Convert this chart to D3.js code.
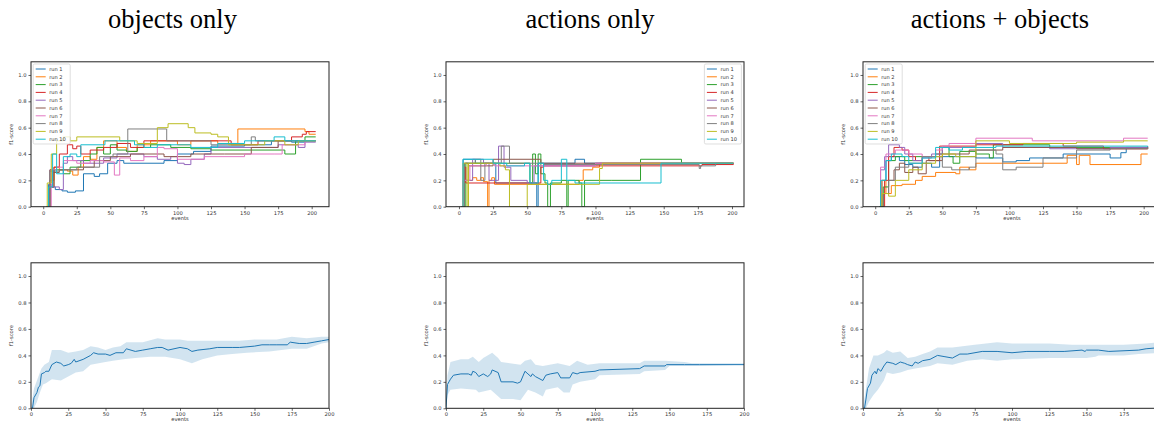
<!DOCTYPE html>
<html><head><meta charset="utf-8">
<script src="https://cdn.jsdelivr.net/npm/d3@7"></script>
<style>body{margin:0;background:#fff}svg{display:block}</style>
</head><body><svg id="c" width="1154" height="426"></svg>
<script>
const titles = ["objects only", "actions only", "actions + objects"];
const runNames = ["run 1","run 2","run 3","run 4","run 5","run 6","run 7","run 8","run 9","run 10"];
const colors = ["#1f77b4","#ff7f0e","#2ca02c","#d62728","#9467bd","#8c564b","#e377c2","#7f7f7f","#bcbd22","#17becf"];
const yTicks = [0, 0.2, 0.4, 0.6, 0.8, 1.0];
const xTicks = [0, 25, 50, 75, 100, 125, 150, 175, 200];

// step change points [event, f1] per run
const objectsRuns = [
 [[2,0],[4,0.17],[6,0.15],[9,0.13],[14,0.12],[18,0.11],[24,0.12],[30,0.25],[38,0.23],[42,0.25],[48,0.33],[55,0.35],[60,0.33],[90,0.35],[100,0.40],[112,0.42],[125,0.46],[150,0.47],[170,0.50],[185,0.49],[195,0.50],[203,0.50]],
 [[3,0],[5,0.2],[8,0.3],[12,0.28],[18,0.27],[22,0.24],[26,0.3],[30,0.38],[35,0.36],[40,0.45],[45,0.5],[55,0.45],[62,0.42],[70,0.47],[80,0.5],[100,0.47],[110,0.5],[130,0.48],[145,0.59],[195,0.57],[198,0.55],[203,0.55]],
 [[3,0],[5,0.15],[8,0.28],[15,0.25],[20,0.3],[28,0.35],[35,0.4],[40,0.45],[45,0.4],[50,0.47],[55,0.43],[62,0.42],[70,0.45],[80,0.47],[95,0.45],[110,0.44],[125,0.43],[180,0.40],[188,0.5],[195,0.53],[203,0.53]],
 [[3,0],[5,0.15],[8,0.3],[12,0.4],[18,0.47],[22,0.44],[25,0.46],[28,0.4],[35,0.43],[45,0.45],[55,0.48],[65,0.45],[75,0.5],[140,0.47],[160,0.5],[185,0.53],[193,0.55],[196,0.57],[203,0.57]],
 [[3,0],[5,0.28],[7,0.15],[12,0.13],[15,0.33],[18,0.38],[22,0.35],[30,0.33],[45,0.37],[55,0.4],[75,0.38],[85,0.36],[95,0.38],[100,0.33],[105,0.32],[110,0.36],[120,0.4],[125,0.45],[175,0.47],[190,0.45],[195,0.49],[203,0.49]],
 [[3,0],[5,0.28],[8,0.26],[12,0.28],[30,0.3],[38,0.35],[50,0.38],[65,0.4],[90,0.38],[110,0.4],[135,0.4],[155,0.45],[175,0.5],[203,0.5]],
 [[3,0],[6,0.28],[10,0.3],[15,0.35],[25,0.33],[35,0.35],[45,0.34],[53,0.24],[57,0.37],[65,0.35],[75,0.38],[85,0.45],[90,0.44],[100,0.36],[120,0.38],[150,0.4],[172,0.4],[178,0.47],[195,0.5],[203,0.5]],
 [[3,0],[5,0.27],[12,0.28],[25,0.3],[35,0.3],[42,0.38],[52,0.4],[63,0.59],[92,0.5],[125,0.47],[155,0.53],[158,0.5],[203,0.5]],
 [[2,0],[3,0.18],[6,0.4],[10,0.5],[15,0.53],[20,0.5],[25,0.53],[57,0.5],[70,0.48],[85,0.6],[93,0.63],[108,0.6],[113,0.56],[125,0.55],[130,0.53],[138,0.47],[165,0.5],[180,0.47],[190,0.5],[203,0.5]],
 [[3,0],[4,0.15],[7,0.4],[10,0.25],[15,0.38],[20,0.4],[25,0.38],[28,0.47],[46,0.5],[68,0.47],[75,0.45],[85,0.47],[110,0.45],[130,0.48],[150,0.5],[172,0.53],[180,0.5],[203,0.5]]
];
const actionsRuns = [
 [[2,0],[3,0.36],[12,0.33],[27,0.18],[55,0.18],[57,0],[58,0.33],[85,0.36],[92,0.33],[201,0.33]],
 [[3,0],[4,0.2],[10,0.22],[13,0.2],[16,0.22],[18,0.19],[21,0],[22,0.2],[24,0.22],[26,0.17],[60,0.17],[88,0.2],[91,0.28],[98,0.3],[103,0.33],[201,0.33]],
 [[2,0],[5,0.33],[52,0.18],[54,0.4],[56,0.25],[58,0.4],[60,0.25],[63,0.18],[65,0],[67,0.18],[75,0.2],[79,0],[80,0.2],[88,0.18],[90,0],[92,0.2],[112,0.2],[133,0.36],[163,0.33],[201,0.33]],
 [[3,0],[4,0.3],[5,0.18],[60,0.3],[62,0.31],[178,0.32],[201,0.33]],
 [[2,0],[3,0.2],[10,0.36],[18,0.33],[22,0.2],[29,0.46],[33,0.3],[38,0.2],[50,0.18],[55,0.31],[100,0.33],[201,0.33]],
 [[2,0],[4,0.33],[7,0.31],[25,0.36],[60,0.33],[201,0.33]],
 [[2,0],[3,0.2],[8,0.31],[20,0.33],[26,0.31],[100,0.33],[201,0.33]],
 [[2,0],[4,0.33],[12,0.36],[16,0.2],[19,0.33],[31,0.46],[37,0.33],[62,0.32],[176,0.29],[177,0.31],[188,0.33],[201,0.33]],
 [[2,0],[3,0.33],[6,0],[7,0.33],[30,0.31],[34,0.28],[37,0],[50,0.17],[103,0.29],[105,0.33],[201,0.33]],
 [[2,0],[3,0.36],[25,0.33],[35,0.31],[48,0.33],[52,0.18],[58,0.33],[62,0.2],[65,0.17],[68,0.2],[75,0.36],[79,0.2],[85,0.18],[148,0.33],[201,0.33]]
];
const bothRuns = [
 [[3,0],[5,0.2],[8,0.35],[12,0.38],[18,0.35],[22,0.32],[28,0.3],[35,0.33],[42,0.3],[48,0.38],[60,0.38],[75,0.37],[95,0.34],[105,0.35],[115,0.37],[125,0.37],[140,0.4],[175,0.37],[183,0.41],[187,0.45],[203,0.46]],
 [[4,0],[5,0.2],[8,0.1],[12,0.16],[20,0.17],[30,0.2],[35,0.23],[45,0.26],[60,0.25],[63,0.3],[70,0.28],[75,0.33],[143,0.39],[150,0.32],[152,0.39],[160,0.32],[198,0.4],[203,0.4]],
 [[4,0],[6,0.15],[10,0.35],[15,0.38],[22,0.35],[30,0.38],[45,0.4],[50,0.45],[55,0.38],[58,0.33],[63,0.42],[75,0.4],[85,0.37],[88,0.47],[130,0.45],[203,0.45]],
 [[4,0],[7,0.2],[10,0.38],[14,0.45],[20,0.43],[25,0.38],[30,0.35],[35,0.38],[40,0.35],[48,0.46],[75,0.47],[110,0.48],[140,0.46],[170,0.44],[203,0.45]],
 [[3,0],[4,0.28],[7,0.38],[10,0.47],[18,0.45],[22,0.4],[28,0.35],[35,0.37],[42,0.4],[50,0.45],[75,0.48],[95,0.45],[130,0.44],[175,0.45],[203,0.45]],
 [[4,0],[6,0.1],[10,0.2],[14,0.28],[18,0.33],[22,0.26],[28,0.3],[32,0.25],[38,0.35],[50,0.4],[70,0.43],[95,0.45],[150,0.44],[203,0.45]],
 [[3,0],[4,0.3],[8,0.4],[15,0.43],[25,0.4],[35,0.38],[45,0.43],[50,0.46],[55,0.48],[75,0.52],[117,0.5],[185,0.52],[203,0.52]],
 [[4,0],[6,0.1],[10,0.2],[15,0.3],[25,0.33],[35,0.38],[50,0.3],[57,0.28],[70,0.3],[75,0.43],[90,0.4],[95,0.28],[105,0.3],[125,0.37],[150,0.43],[175,0.44],[203,0.45]],
 [[3,0],[5,0.1],[10,0.08],[15,0.2],[25,0.28],[35,0.33],[45,0.38],[50,0.4],[60,0.38],[75,0.5],[90,0.5],[100,0.48],[150,0.49],[185,0.5],[203,0.5]],
 [[3,0],[4,0.2],[8,0.35],[12,0.4],[20,0.38],[25,0.33],[35,0.37],[45,0.45],[55,0.43],[65,0.45],[90,0.46],[155,0.46],[203,0.46]]
];

// mean curves and std bands [event, f1]
const objectsMean = [[0,0],[1,0],[2,0.08],[4,0.12],[5,0.16],[6,0.17],[7,0.26],[9,0.27],[10,0.28],[12,0.28],[14,0.33],[17,0.35],[20,0.34],[22,0.32],[25,0.33],[27,0.34],[29,0.37],[30,0.35],[35,0.37],[40,0.4],[42,0.42],[45,0.41],[50,0.41],[53,0.4],[57,0.42],[62,0.42],[64,0.45],[70,0.43],[75,0.44],[80,0.45],[85,0.46],[88,0.46],[92,0.44],[100,0.46],[105,0.45],[108,0.43],[112,0.44],[120,0.45],[125,0.46],[135,0.46],[140,0.46],[150,0.47],[155,0.48],[160,0.48],[165,0.48],[172,0.48],[174,0.5],[180,0.49],[185,0.49],[190,0.5],[195,0.51],[200,0.52]];
const objectsUpper = [[0,0],[2,0.15],[5,0.24],[7,0.3],[9,0.33],[12,0.35],[14,0.44],[20,0.44],[25,0.42],[30,0.43],[35,0.44],[40,0.47],[45,0.46],[50,0.44],[55,0.46],[60,0.47],[64,0.5],[75,0.5],[85,0.53],[90,0.52],[100,0.52],[105,0.51],[115,0.51],[125,0.51],[140,0.51],[150,0.52],[165,0.52],[175,0.54],[185,0.53],[195,0.54],[200,0.54]];
const objectsLower = [[0,0],[2,0.0],[4,0.05],[6,0.12],[8,0.18],[10,0.19],[14,0.22],[20,0.21],[25,0.24],[30,0.27],[35,0.28],[40,0.33],[50,0.35],[55,0.36],[62,0.37],[70,0.38],[80,0.39],[90,0.39],[100,0.37],[108,0.34],[115,0.37],[125,0.4],[135,0.41],[145,0.42],[160,0.43],[175,0.45],[185,0.45],[195,0.49],[200,0.5]];
const actionsMean = [[0,0],[1,0.18],[2,0.2],[3,0.22],[5,0.25],[10,0.26],[15,0.26],[17,0.25],[18,0.28],[20,0.27],[22,0.24],[25,0.26],[28,0.24],[30,0.26],[31,0.29],[35,0.27],[37,0.2],[45,0.2],[48,0.19],[50,0.2],[53,0.28],[55,0.26],[57,0.24],[58,0.26],[60,0.24],[65,0.21],[67,0.25],[70,0.26],[75,0.27],[77,0.23],[83,0.23],[85,0.27],[88,0.26],[90,0.27],[100,0.28],[103,0.29],[130,0.3],[133,0.32],[147,0.32],[148,0.33],[160,0.33],[170,0.33],[200,0.33]];
const actionsUpper = [[0,0],[1,0.25],[3,0.35],[10,0.37],[15,0.37],[18,0.39],[22,0.35],[25,0.38],[31,0.42],[35,0.38],[37,0.35],[50,0.33],[53,0.36],[57,0.37],[60,0.33],[65,0.32],[75,0.34],[83,0.32],[88,0.36],[95,0.33],[103,0.34],[130,0.34],[133,0.36],[147,0.36],[160,0.35],[165,0.34],[200,0.34]];
const actionsLower = [[0,0],[1,0.1],[3,0.14],[10,0.15],[20,0.14],[22,0.12],[30,0.14],[37,0.07],[45,0.07],[50,0.06],[55,0.14],[60,0.12],[65,0.09],[67,0.14],[75,0.16],[79,0.12],[83,0.12],[85,0.18],[90,0.2],[100,0.22],[103,0.25],[130,0.26],[133,0.28],[147,0.29],[150,0.32],[160,0.32],[170,0.32],[200,0.33]];
const bothMean = [[0,0],[1,0],[2,0.07],[3,0.15],[5,0.19],[6,0.25],[8,0.28],[9,0.26],[10,0.3],[12,0.28],[14,0.32],[16,0.35],[20,0.34],[22,0.33],[25,0.35],[28,0.34],[30,0.33],[33,0.32],[35,0.35],[37,0.34],[40,0.36],[45,0.37],[50,0.4],[55,0.39],[60,0.38],[65,0.41],[70,0.41],[80,0.43],[90,0.43],[100,0.42],[110,0.43],[125,0.43],[135,0.43],[147,0.44],[149,0.43],[150,0.44],[158,0.44],[165,0.43],[185,0.44],[190,0.45],[200,0.46]];
const bothUpper = [[0,0],[2,0.15],[4,0.3],[7,0.4],[10,0.4],[14,0.42],[16,0.44],[20,0.42],[25,0.43],[30,0.38],[35,0.39],[40,0.41],[45,0.43],[50,0.46],[60,0.46],[75,0.48],[90,0.5],[100,0.49],[125,0.49],[140,0.48],[150,0.48],[175,0.48],[190,0.49],[200,0.5]];
const bothLower = [[0,0],[2,0.0],[4,0.05],[7,0.1],[10,0.14],[14,0.21],[16,0.27],[20,0.26],[25,0.27],[30,0.29],[35,0.3],[40,0.31],[45,0.32],[50,0.34],[60,0.33],[70,0.36],[80,0.37],[90,0.36],[100,0.37],[125,0.38],[135,0.38],[150,0.38],[156,0.39],[158,0.4],[175,0.4],[185,0.41],[200,0.42]];

const svg = d3.select("#c");
const W = 1154;
const FW = 298;
const titleX = [172.5, 590, 1000];
const lefts = [31, 446, 863];

titles.forEach((t,i)=>{
  svg.append("text").attr("x", titleX[i]).attr("y", 28).attr("text-anchor","middle")
    .attr("font-family","'Liberation Serif', 'Times New Roman', serif").attr("font-size", 26.5)
    .attr("fill","#000").text(t);
});

function axes(g, x, y, left, top, bottom, xlabelY){
  const font = "'DejaVu Sans', sans-serif";
  const ya = g.append("g").attr("transform",`translate(${left},0)`)
    .call(d3.axisLeft(y).tickValues(yTicks).tickFormat(d3.format(".1f")).tickSize(2.5).tickPadding(2));
  const visX = xTicks.filter(d => x(d) + 5 < W);
  const xa = g.append("g").attr("transform",`translate(0,${bottom})`)
    .call(d3.axisBottom(x).tickValues(visX).tickSize(2.5).tickPadding(2));
  [ya, xa].forEach(a=>{
    a.select(".domain").remove();
    a.selectAll("line").attr("stroke","#222").attr("stroke-width",0.7);
    a.selectAll("text").attr("font-family",font).attr("font-size",5.2).attr("fill","#333");
  });
  g.append("rect").attr("x", left).attr("y", top).attr("width", FW).attr("height", bottom-top)
    .attr("fill","none").attr("stroke","#222").attr("stroke-width",1);
  g.append("text").attr("transform",`translate(${left-18.5},${(top+bottom)/2}) rotate(-90)`)
    .attr("text-anchor","middle").attr("font-family",font).attr("font-size",5.2).attr("fill","#333").text("f1-score");
  g.append("text").attr("x", left+FW/2).attr("y", xlabelY).attr("text-anchor","middle")
    .attr("font-family",font).attr("font-size",5.2).attr("fill","#333").text("events");
}

// top row
const topRuns = [objectsRuns, actionsRuns, bothRuns];
const topXlim = [[-9.1,212.9],[-9.5,208.8],[-9.1,212.9]];
const legendSide = ["left","right","left"];
const tTop = 61.8, tBot = 206.7;
topRuns.forEach((runs,i)=>{
  const left = lefts[i];
  const g = svg.append("g");
  const x = d3.scaleLinear().domain(topXlim[i]).range([left, left+FW]);
  const y = d3.scaleLinear().domain([0,1.1]).range([tBot, tTop]);
  const clipId = "clipT"+i;
  g.append("clipPath").attr("id",clipId).append("rect").attr("x",left).attr("y",tTop).attr("width",FW).attr("height",tBot-tTop);
  const line = d3.line().x(d=>x(d[0])).y(d=>y(d[1])).curve(d3.curveStepAfter);
  const lg = g.append("g").attr("clip-path",`url(#${clipId})`);
  runs.forEach((r,k)=>{
    lg.append("path").datum(r).attr("d",line).attr("fill","none").attr("stroke",colors[k]).attr("stroke-width",1);
  });
  axes(g, x, y, left, tTop, tBot, 219.5);
  // legend
  const lw = 37, lh = 80;
  const lx = legendSide[i]==="left" ? left+2.2 : left+FW-2.6-lw;
  const ly = tTop+2.2;
  const leg = g.append("g");
  leg.append("rect").attr("x",lx).attr("y",ly).attr("width",lw).attr("height",lh).attr("rx",1.5)
    .attr("fill","#fff").attr("fill-opacity",0.8).attr("stroke","#d0d0d0").attr("stroke-width",0.7);
  runNames.forEach((n,k)=>{
    const yy = ly + 5 + k*7.8;
    leg.append("line").attr("x1",lx+2.5).attr("x2",lx+12.5).attr("y1",yy).attr("y2",yy)
      .attr("stroke",colors[k]).attr("stroke-width",1);
    leg.append("text").attr("x",lx+16).attr("y",yy).attr("dy","0.35em").attr("font-family","'DejaVu Sans', sans-serif")
      .attr("font-size",5.1).attr("fill","#333").text(n);
  });
});

// bottom row
const bMeans = [objectsMean, actionsMean, bothMean];
const bUppers = [objectsUpper, actionsUpper, bothUpper];
const bLowers = [objectsLower, actionsLower, bothLower];
const bTop = 262.8, bBot = 408.3;
bMeans.forEach((m,i)=>{
  const left = lefts[i];
  const g = svg.append("g");
  const x = d3.scaleLinear().domain([0,200]).range([left, left+FW]);
  const y = d3.scaleLinear().domain([0,1.1]).range([bBot, bTop]);
  const clipId = "clipB"+i;
  g.append("clipPath").attr("id",clipId).append("rect").attr("x",left).attr("y",bTop).attr("width",FW).attr("height",bBot-bTop);
  const up = bUppers[i], lo = bLowers[i];
  const area = d3.area().x(d=>x(d[0])).y0(d=>y(d[2])).y1(d=>y(d[1]));
  const lg = g.append("g").attr("clip-path",`url(#${clipId})`);
  // band polygon: upper edge forward, lower edge backward
  const bandPath = d3.line().x(d=>x(d[0])).y(d=>y(d[1]))(up.concat(lo.slice().reverse())) + "Z";
  lg.append("path").attr("d", bandPath).attr("fill","#1f77b4").attr("fill-opacity",0.2).attr("stroke","none");
  lg.append("path").datum(m).attr("d", d3.line().x(d=>x(d[0])).y(d=>y(d[1])))
    .attr("fill","none").attr("stroke","#1f77b4").attr("stroke-width",1);
  axes(g, x, y, left, bTop, bBot, 421);
});
</script></body></html>
